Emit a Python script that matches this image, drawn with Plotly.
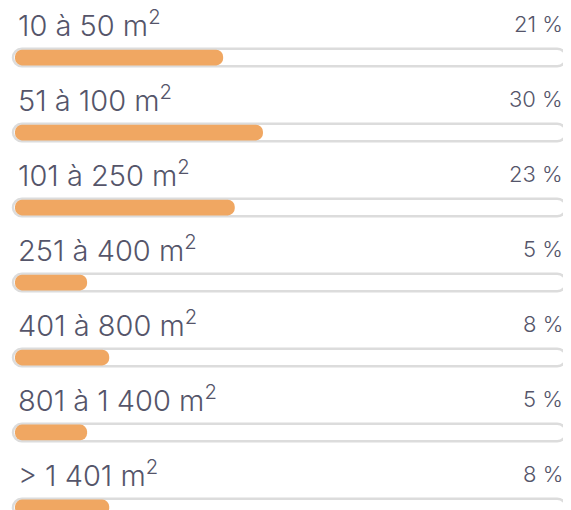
import plotly.graph_objects as go

categories = ["10 à 50 m<sup>2</sup>", "51 à 100 m<sup>2</sup>", "101 à 250 m<sup>2</sup>",
              "251 à 400 m<sup>2</sup>", "401 à 800 m<sup>2</sup>", "801 à 1 400 m<sup>2</sup>",
              "> 1 401 m<sup>2</sup>"]
pct_values = [21, 30, 23, 5, 8, 5, 8]
# fill level of each bar (percent of the track length)
fill_levels = [38.0, 45.2, 40.1, 13.4, 17.4, 13.4, 17.4]
track_full = [100] * len(categories)

rows = list(range(len(categories)))
TEXT = "#55556a"
ORANGE = "#f0a762"
TRACK = "#dcdcdc"
FONT = "Inter"

fig = go.Figure()
fig.add_trace(go.Bar(
    y=rows, x=track_full, base=0, orientation="h", width=0.235,
    marker=dict(color="white", line=dict(color=TRACK, width=2.5), cornerradius=9),
    hoverinfo="skip", showlegend=False, cliponaxis=False,
))
fig.add_trace(go.Bar(
    y=rows, x=[f - 0.36 for f in fill_levels], base=0.36, orientation="h", width=0.21,
    marker=dict(color=ORANGE, line=dict(width=0), cornerradius=8),
    hoverinfo="skip", showlegend=False, cliponaxis=False,
))

for r, cat, p in zip(rows, categories, pct_values):
    fig.add_annotation(x=0.5, y=r, xref="x", yref="y", text=cat, showarrow=False,
                       xanchor="left", yanchor="middle", yshift=34,
                       font=dict(family=FONT, size=29, color=TEXT, weight=300))
    fig.add_annotation(x=99.8, y=r, xref="x", yref="y", text=f"{p} %", showarrow=False,
                       xanchor="right", yanchor="middle", yshift=34,
                       font=dict(family=FONT, size=22, color=TEXT, weight=300))

pitch = 75
c0 = 49.5  # centre of first track, in figure pixels (page body has an 8px margin)
x0 = 5     # left end of the track, in figure pixels
pxu = 5.53
fig.update_layout(
    width=571, height=510, margin=dict(l=0, r=0, t=0, b=0),
    paper_bgcolor="white", plot_bgcolor="white",
    barmode="overlay",
    xaxis=dict(range=[-x0 / pxu, (571 - x0) / pxu], visible=False, fixedrange=True),
    yaxis=dict(range=[(510 - c0) / pitch, -c0 / pitch], visible=False, fixedrange=True),
)
fig.write_html("out.html")
